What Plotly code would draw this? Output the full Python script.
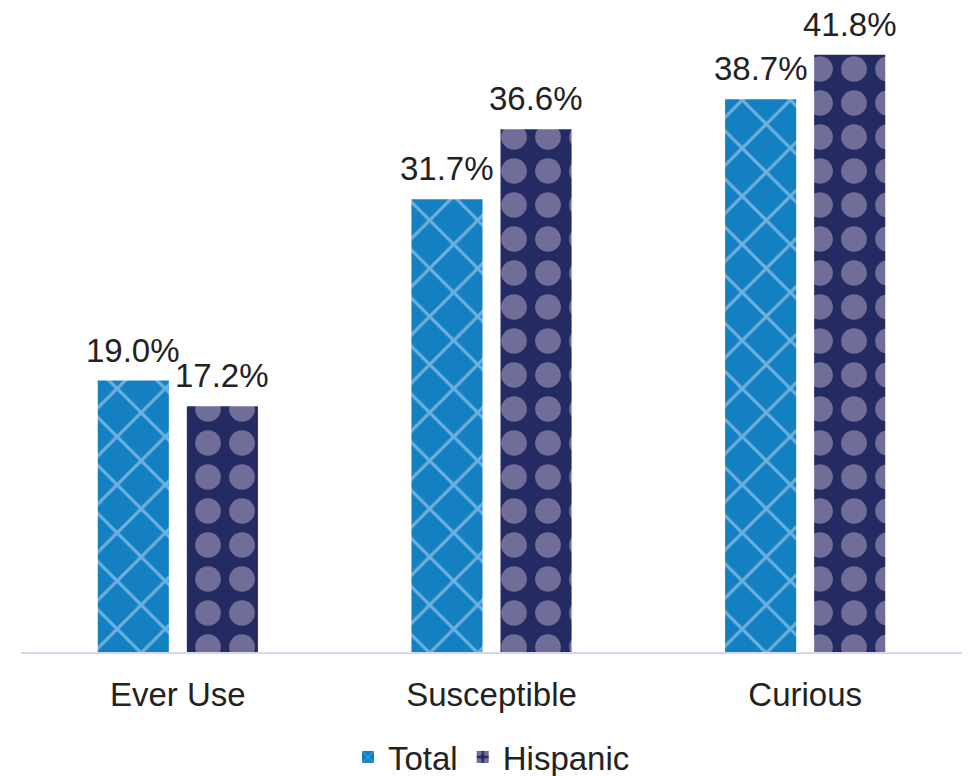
import plotly.graph_objects as go

categories = ["Ever Use", "Susceptible", "Curious"]
total_vals = [19.0, 31.7, 38.7]
hispanic_vals = [17.2, 36.6, 41.8]
series_names = ["Total", "Hispanic"]

FONT = "Liberation Sans, Arial, sans-serif"

fig = go.Figure()
fig.add_trace(go.Bar(
    name=series_names[0], x=categories, y=total_vals,
    marker=dict(color="#1380c2", line=dict(width=0),
                pattern=dict(shape="x", fgcolor="#6cb0de", size=34, solidity=0.18,
                             fillmode="overlay", fgopacity=1)),
))
fig.add_trace(go.Bar(
    name=series_names[1], x=categories, y=hispanic_vals,
    marker=dict(color="#242a62", line=dict(width=0),
                pattern=dict(shape=".", fgcolor="#706d98", size=34, solidity=0.45,
                             fillmode="overlay", fgopacity=1)),
))

# data labels above each bar (offset to each bar's slot within the group)
for vals, shift in [(total_vals, -44.5), (hispanic_vals, 44.5)]:
    for c, v in zip(categories, vals):
        fig.add_annotation(x=c, y=v, xref="x", yref="y", text=f"{v:.1f}%",
                           showarrow=False, xshift=shift, yshift=10,
                           yanchor="bottom", xanchor="center",
                           font=dict(size=33, color="#222222", family=FONT))

fig.update_layout(
    width=968, height=776,
    margin=dict(l=21, r=6, t=52, b=124, autoexpand=False),
    paper_bgcolor="white", plot_bgcolor="white",
    barmode="group", bargap=0.432, bargroupgap=0.202,
    font=dict(family=FONT, color="#222222"),
    showlegend=True,
    legend=dict(orientation="h", x=0.5, xanchor="center", y=-0.175, yanchor="middle",
                font=dict(size=33, color="#222222", family=FONT),
                itemwidth=30, tracegroupgap=0, traceorder="normal"),
    xaxis=dict(showgrid=False, showline=True, linecolor="#d6d6ec", linewidth=2,
               ticks="outside", ticklen=12, tickcolor="rgba(0,0,0,0)", automargin=False,
               tickfont=dict(size=33, color="#222222", family=FONT)),
    yaxis=dict(range=[0, 42], visible=False, showgrid=False, zeroline=False, automargin=False),
)

fig.write_html("out.html")
